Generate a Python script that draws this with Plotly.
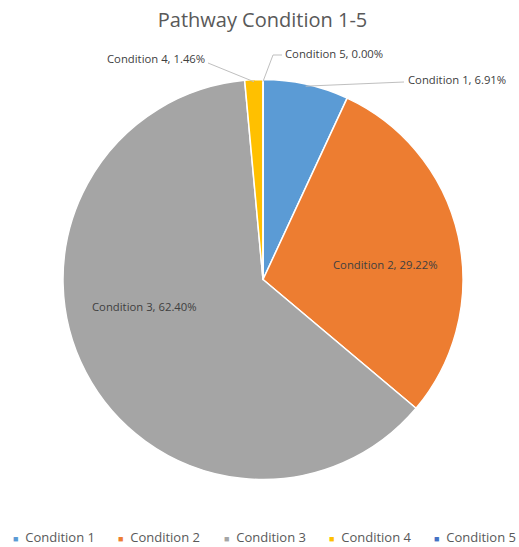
import math
import plotly.graph_objects as go

labels = ["Condition 1", "Condition 2", "Condition 3", "Condition 4", "Condition 5"]
values = [6.91, 29.22, 62.40, 1.46, 0.00]
colors = ["#5B9BD5", "#ED7D31", "#A5A5A5", "#FFC000", "#4472C4"]
title = "Pathway Condition 1-5"

W, H = 519, 547
cx, cy, R = 263, 279.5, 200  # pixel geometry of the pie
FONT = "Open Sans, Liberation Sans, sans-serif"
LFS = 11.3

fig = go.Figure(go.Pie(
    labels=labels, values=values, sort=False, direction="clockwise", rotation=0,
    marker=dict(colors=colors, line=dict(color="white", width=1.5)),
    textinfo="none",
    domain=dict(x=[(cx - R) / W, (cx + R) / W], y=[1 - (cy + R) / H, 1 - (cy - R) / H]),
    hoverinfo="label+percent", showlegend=False,
))

total = sum(values)
cum = 0
mids = []
for v in values:
    mids.append((cum + v / 2) / total * 2 * math.pi)
    cum += v

def px(x, y):
    return x / W, 1 - y / H

def lab_text(i):
    return f"{labels[i]}, {values[i]:.2f}%"

shapes = []
annos = []

# inside labels (label positions in pixels)
inside_pos = {1: (385, 264), 2: (144.5, 306)}
for i, (lx, ly) in inside_pos.items():
    X, Y = px(lx, ly)
    annos.append(dict(xref="paper", yref="paper", x=X, y=Y, text=lab_text(i), showarrow=False,
                      xanchor="center", yanchor="middle",
                      font=dict(family=FONT, size=LFS, color="#404040")))

# outside labels with leader lines (anchored on slice mid-angles)
outside = {0: (406, 79, "left"), 3: (207, 59, "right"), 4: (283, 54, "left")}
for i, (lx, ly, side) in outside.items():
    a = mids[i]
    ex = cx + R * 0.99 * math.sin(a)
    ey = cy - R * 0.99 * math.cos(a)
    if i == 4:
        pts = [(ex, ey), (lx - 10, ly + 1), (lx - 1, ly + 1)]
    elif i == 0:
        pts = [(ex, ey), (lx - 2, ly + 3)]
    else:
        pts = [(ex, ey), (lx + 1, ly + 4)]
    for (x0, y0), (x1, y1) in zip(pts[:-1], pts[1:]):
        X0, Y0 = px(x0, y0); X1, Y1 = px(x1, y1)
        shapes.append(dict(type="line", xref="paper", yref="paper", x0=X0, y0=Y0, x1=X1, y1=Y1,
                           line=dict(color="#BFBFBF", width=1)))
    X, Y = px(lx, ly)
    annos.append(dict(xref="paper", yref="paper", x=X, y=Y, text=lab_text(i),
                      showarrow=False, xanchor="left" if side == "left" else "right", yanchor="middle",
                      font=dict(family=FONT, size=LFS, color="#404040")))

# legend row (one entry per category)
leg_x0, leg_step, leg_y = 11, 105.3, 537
for i, (lab, col) in enumerate(zip(labels, colors)):
    X, Y = px(leg_x0 + i * leg_step, leg_y)
    annos.append(dict(xref="paper", yref="paper", x=X, y=Y, showarrow=False,
                      xanchor="left", yanchor="middle",
                      text=f"<span style='color:{col};font-size:9px'>■</span>  {lab}",
                      font=dict(family=FONT, size=13, color="#595959")))

fig.update_layout(
    width=W, height=H, margin=dict(l=0, r=0, t=0, b=0),
    paper_bgcolor="white", plot_bgcolor="white", showlegend=False,
    title=dict(text=title, x=262.5 / W, xanchor="center", y=1 - 20 / H, yanchor="middle",
               font=dict(family=FONT, size=20, color="#595959")),
    shapes=shapes, annotations=annos,
)

fig.write_html("out.html", config={"displayModeBar": False},
               post_script="document.body.style.margin='0px';document.body.style.overflow='hidden';")
